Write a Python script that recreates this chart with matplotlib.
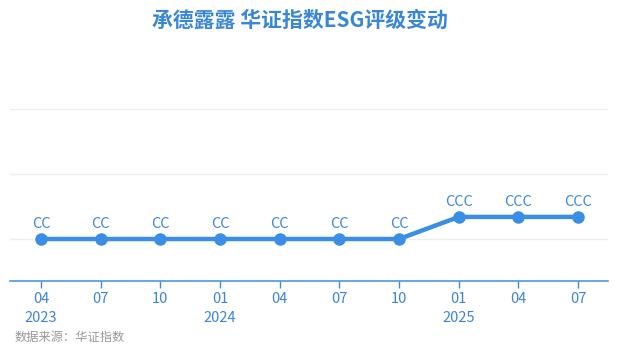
import matplotlib.pyplot as plt

plt.rcParams['font.family'] = ['Noto Sans CJK SC', 'DejaVu Sans']

months = ['04', '07', '10', '01', '04', '07', '10', '01', '04', '07']
years = ['2023', '', '', '2024', '', '', '', '2025', '', '']
ratings = ['CC', 'CC', 'CC', 'CC', 'CC', 'CC', 'CC', 'CCC', 'CCC', 'CCC']
scores = [1.0, 1.0, 1.0, 1.0, 1.0, 1.0, 1.0, 1.34, 1.34, 1.34]

blue = '#3a8ee6'
text_blue = '#3a86d6'

fig = plt.figure(figsize=(6.18, 3.55), dpi=100)
ax = fig.add_axes([10/618, 1 - 281/355, 598/618, (281 - 109)/355])

x = list(range(len(scores)))
ax.plot(x, scores, color=blue, lw=3.2, marker='o', ms=8, zorder=3)
for xi, yi, r in zip(x, scores, ratings):
    ax.annotate(r, (xi, yi), xytext=(0, 6), textcoords='offset points',
                ha='center', va='bottom', fontsize=10.5, color=text_blue)

ax.set_xlim(-0.52, 9.5)
ax.set_ylim(1 - 42/65, 3.0)
ax.set_yticks([1, 2, 3])
ax.set_yticklabels([])
ax.tick_params(axis='y', length=0)
ax.grid(axis='y', color='#eeeeee', lw=1)
ax.set_axisbelow(True)

labels = [m + ('\n' + y if y else '') for m, y in zip(months, years)]
ax.set_xticks(x)
ax.set_xticklabels(labels, fontsize=10.5, color=text_blue, linespacing=1.45, va='top')
ax.tick_params(axis='x', length=5, color=blue, width=1, pad=3)

for s in ['top', 'right', 'left']:
    ax.spines[s].set_visible(False)
ax.spines['bottom'].set_color(blue)
ax.spines['bottom'].set_linewidth(1.1)

fig.text(300/618, 1 - 20/355, '承德露露 华证指数ESG评级变动', ha='center', va='center',
         fontsize=15, fontweight='bold', color=text_blue)
fig.text(15/618, 1 - 337/355, '数据来源：华证指数', ha='left', va='center',
         fontsize=8.8, color='#999999')

fig.savefig('out.png', dpi=100)
